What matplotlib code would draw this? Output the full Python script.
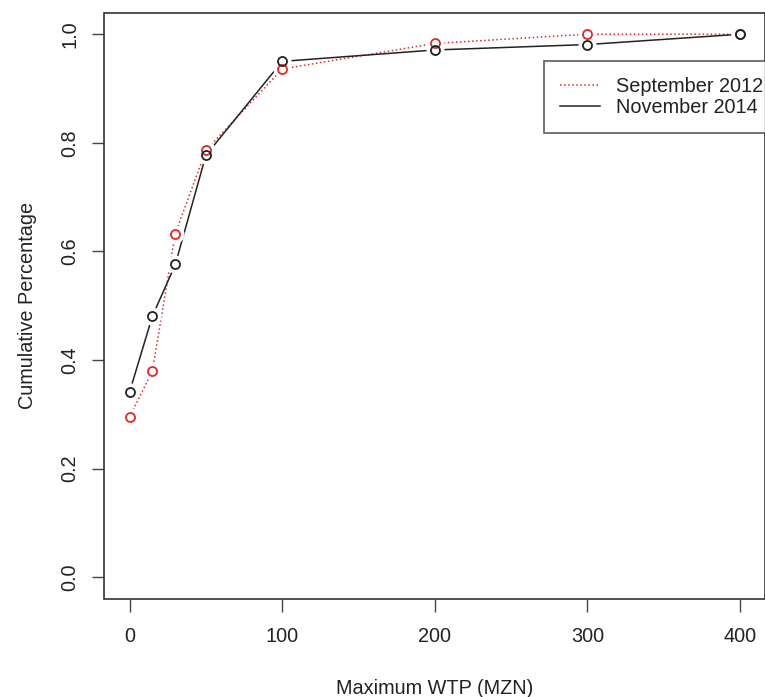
import matplotlib
matplotlib.use("Agg")
import matplotlib.pyplot as plt
from matplotlib.lines import Line2D

plt.rcParams['font.family'] = ['Liberation Sans', 'DejaVu Sans']

# max WTP levels (MZN) and cumulative shares
wtp = [0, 15, 30, 50, 100, 200, 300, 400]
sep2012 = [0.295, 0.380, 0.633, 0.786, 0.936, 0.983, 1.000, 1.000]
nov2014 = [0.341, 0.481, 0.576, 0.777, 0.950, 0.971, 0.981, 1.000]

xticks = [0, 100, 200, 300, 400]
yticks = [0.0, 0.2, 0.4, 0.6, 0.8, 1.0]

red = '#dd2a2a'
ink = '#222222'
fs = 14.3

fig = plt.figure(figsize=(7.65, 6.97), dpi=100)
ax = fig.add_axes([104.5 / 765, 1 - 599 / 697, 660 / 765, 586.5 / 697])

# lines first, then white masks to mimic R type="b" gaps, then open circles
ax.plot(wtp, sep2012, color=red, ls=':', lw=1.1, zorder=2)
ax.plot(wtp, nov2014, color=ink, ls='-', lw=1.1, zorder=2)
for ys in (sep2012, nov2014):
    ax.plot(wtp, ys, ls='none', marker='o', ms=12, mfc='white', mec='white', zorder=3)
ax.plot(wtp, sep2012, ls='none', marker='o', ms=6.5, mfc='none', mec=red, mew=1.3, zorder=4)
ax.plot(wtp, nov2014, ls='none', marker='o', ms=6.5, mfc='none', mec=ink, mew=1.3, zorder=4)

ax.set_xlim(-16.4, 416)
ax.set_ylim(-0.04, 1.04)
ax.set_xticks(xticks)
ax.set_yticks(yticks)
ax.set_xticklabels([str(v) for v in xticks])
ax.set_yticklabels(['%.1f' % v for v in yticks], rotation=90, va='center')

for s in ax.spines.values():
    s.set_color('#333333')
    s.set_linewidth(1.2)
ax.tick_params(direction='out', length=9, width=1, colors='#444444',
               labelcolor=ink, labelsize=fs)
ax.tick_params(axis='x', pad=11)
ax.tick_params(axis='y', pad=9)

ax.set_xlabel('Maximum WTP (MZN)', fontsize=fs, color=ink, labelpad=24)
ax.set_ylabel('Cumulative Percentage', fontsize=fs, color=ink, labelpad=17)

handles = [Line2D([], [], color=red, ls=':', lw=1.1),
           Line2D([], [], color=ink, ls='-', lw=1.1)]
leg = fig.legend(handles, ['September 2012', 'November 2014'],
                 loc='upper left', bbox_to_anchor=(544 / 765, 1 - 61 / 697),
                 fontsize=fs, frameon=True, fancybox=False, borderpad=0.8,
                 labelspacing=0.1, handlelength=2.0, handletextpad=0.85,
                 borderaxespad=0)
leg.get_frame().set_edgecolor('#333333')
leg.get_frame().set_linewidth(1.2)
for t in leg.get_texts():
    t.set_color(ink)

fig.savefig('out.png', dpi=100)
